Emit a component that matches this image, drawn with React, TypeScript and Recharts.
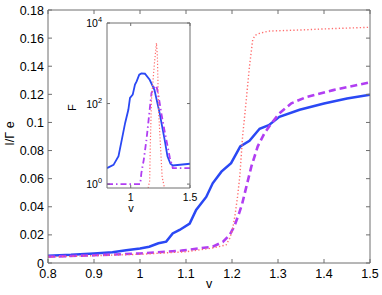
import React from 'react';
import { LineChart, Line, XAxis, YAxis, CartesianGrid } from 'recharts';

// ---------- data (main plot: current vs voltage) ----------
const blueV = [0.8, 0.85, 0.9, 0.94, 0.97, 1.0, 1.02, 1.04, 1.057, 1.071, 1.086, 1.108, 1.122, 1.144, 1.158, 1.177, 1.198, 1.218, 1.238, 1.26, 1.28, 1.303, 1.347, 1.4, 1.45, 1.5];
const blueI = [0.0052, 0.0058, 0.0068, 0.0077, 0.009, 0.0103, 0.0116, 0.014, 0.0152, 0.021, 0.0235, 0.028, 0.0377, 0.047, 0.0567, 0.065, 0.071, 0.083, 0.087, 0.0955, 0.098, 0.104, 0.109, 0.1135, 0.117, 0.1198];

const purpleV = [0.8, 0.9, 1.0, 1.09, 1.158, 1.18, 1.195, 1.205, 1.215, 1.222, 1.231, 1.242, 1.256, 1.27, 1.285, 1.303, 1.329, 1.361, 1.42, 1.5];
const purpleI = [0.0045, 0.0055, 0.0068, 0.0088, 0.0116, 0.015, 0.02, 0.026, 0.035, 0.042, 0.054, 0.0685, 0.083, 0.092, 0.099, 0.1065, 0.1136, 0.118, 0.123, 0.1285];

const redV = [0.8, 1.0, 1.1, 1.155, 1.187, 1.195, 1.201, 1.207, 1.212, 1.217, 1.22, 1.223, 1.227, 1.231, 1.238, 1.245, 1.25, 1.26, 1.28, 1.35, 1.42, 1.5];
const redI = [0.0042, 0.0062, 0.008, 0.0105, 0.0128, 0.0176, 0.0235, 0.035, 0.047, 0.062, 0.0756, 0.09, 0.103, 0.116, 0.14, 0.1587, 0.162, 0.1634, 0.165, 0.1658, 0.1668, 0.1677];

// ---------- data (inset: Fano factor, log scale) ----------
const insetBlueV = [0.8, 0.855, 0.897, 0.925, 0.953, 0.98, 0.994, 1.017, 1.036, 1.05, 1.072, 1.09, 1.12, 1.16, 1.2, 1.244, 1.286, 1.31, 1.335, 1.355, 1.5];
const insetBlueF = [2.5, 3, 4.9, 12.7, 33, 70, 138, 166, 295, 355, 520, 560, 550, 390, 220, 58, 12.7, 4.9, 3.2, 2.9, 3.2];

const insetPurpleV = [0.8, 1.08, 1.09, 1.11, 1.133, 1.16, 1.175, 1.2, 1.217, 1.235, 1.258, 1.28, 1.3, 1.33, 1.355, 1.5];
const insetPurpleF = [1, 1, 1.9, 4, 12.7, 70, 183, 250, 277, 150, 58, 25, 12.7, 4.5, 2.5, 2.5];

const insetRedV = [1.147, 1.16, 1.165, 1.175, 1.2, 1.217, 1.225, 1.235, 1.25, 1.265, 1.285];
const insetRedF = [0.8, 1.2, 8.7, 125, 1000, 3200, 1500, 65, 10, 1.5, 0.8];

// ---------- ticks ----------
const mainXTicks = [0.8, 0.9, 1.0, 1.1, 1.2, 1.3, 1.4, 1.5];
const mainYTicks = [0, 0.02, 0.04, 0.06, 0.08, 0.1, 0.12, 0.14, 0.16, 0.18];
const insetXTicks = [1, 1.5];
const insetYTicks = [1, 100, 10000];
const insetYExponents = ['0', '2', '4'];

const zip = (xs: number[], ys: number[]) => xs.map((x, i) => ({ x, y: ys[i] }));
const blueData = zip(blueV, blueI);
const purpleData = zip(purpleV, purpleI);
const redData = zip(redV, redI);
const insetBlue = zip(insetBlueV, insetBlueF);
const insetPurple = zip(insetPurpleV, insetPurpleF);
const insetRed = zip(insetRedV, insetRedF);

const FONT = '"Liberation Sans", Arial, Helvetica, sans-serif';
const AXIS = '#6e6e6e';
const BLUE = '#2a48f4';
const PURPLE = '#b13ef2';
const RED = '#ff6e6e';
const fmt = (v: number) => String(parseFloat(v.toFixed(2)));

const makeLeftTick = (len: number, fs: number, log = false) => (props: any) => {
  const { x, y, payload, index } = props;
  return (
    <g>
      <line x1={x} y1={y} x2={x + len} y2={y} stroke={AXIS} strokeWidth={1} />
      {log ? (
        <text x={x - 5} y={y + 4} textAnchor="end" fontSize={fs} fontFamily={FONT} fill="#000">
          10<tspan dy={-5} fontSize={fs * 0.7}>{insetYExponents[index]}</tspan>
        </text>
      ) : (
        <text x={x - 4} y={y + 4.5} textAnchor="end" fontSize={fs} fontFamily={FONT} fill="#000">
          {fmt(payload.value)}
        </text>
      )}
    </g>
  );
};
const makeRightTick = (len: number) => (props: any) => {
  const { x, y } = props;
  return <line x1={x} y1={y} x2={x - len} y2={y} stroke={AXIS} strokeWidth={1} />;
};
const makeBottomTick = (len: number, fs: number, dy: number) => (props: any) => {
  const { x, y, payload } = props;
  return (
    <g>
      <line x1={x} y1={y} x2={x} y2={y - len} stroke={AXIS} strokeWidth={1} />
      <text x={x} y={y + dy} textAnchor="middle" fontSize={fs} fontFamily={FONT} fill="#000">
        {fmt(payload.value)}
      </text>
    </g>
  );
};
const makeTopTick = (len: number) => (props: any) => {
  const { x, y } = props;
  return <line x1={x} y1={y} x2={x} y2={y + len} stroke={AXIS} strokeWidth={1} />;
};

const MainYLabel = (props: any) => {
  const { viewBox } = props;
  const cx = viewBox.x + viewBox.width - 34;
  const cy = viewBox.y + viewBox.height / 2 - 3;
  return (
    <text x={cx} y={cy} transform={`rotate(-90 ${cx} ${cy})`} textAnchor="middle" fontSize={12.5} fontFamily={FONT} fill="#000">
      I/Γ e
    </text>
  );
};
const MainXLabel = (props: any) => {
  const { viewBox } = props;
  return (
    <text x={viewBox.x + viewBox.width / 2} y={viewBox.y + 25} textAnchor="middle" fontSize={12.5} fontFamily={FONT} fill="#000">
      v
    </text>
  );
};
const InsetYLabel = (props: any) => {
  const { viewBox } = props;
  const cx = viewBox.x + viewBox.width - 31;
  const cy = viewBox.y + viewBox.height / 2 + 2;
  return (
    <text x={cx} y={cy} transform={`rotate(-90 ${cx} ${cy})`} textAnchor="middle" fontSize={11} fontFamily={FONT} fill="#000">
      F
    </text>
  );
};
const InsetXLabel = (props: any) => {
  const { viewBox } = props;
  return (
    <text x={viewBox.x + 24} y={viewBox.y + 24} textAnchor="middle" fontSize={11} fontFamily={FONT} fill="#000">
      v
    </text>
  );
};

export default function App() {
  return (
    <div style={{ position: 'absolute', left: 0, top: 0, width: 382, height: 295, background: '#fff' }}>
      <div style={{ position: 'absolute', left: 0, top: 0 }}>
        <LineChart width={382} height={295} margin={{ top: 9, right: 11, bottom: 31, left: 47 }}>
          <XAxis xAxisId="b" type="number" dataKey="x" domain={[0.8, 1.5]} ticks={mainXTicks} interval={0}
            height={1} tickSize={0} tickMargin={0} tickLine={false} stroke={AXIS} allowDataOverflow
            tick={makeBottomTick(4, 12.5, 15)} label={<MainXLabel />} />
          <XAxis xAxisId="t" orientation="top" type="number" dataKey="x" domain={[0.8, 1.5]} ticks={mainXTicks} interval={0}
            height={1} tickSize={0} tickMargin={0} tickLine={false} stroke={AXIS} allowDataOverflow tick={makeTopTick(4)} />
          <YAxis yAxisId="l" type="number" domain={[0, 0.18]} ticks={mainYTicks} interval={0}
            width={1} tickSize={0} tickMargin={0} tickLine={false} stroke={AXIS} allowDataOverflow
            tick={makeLeftTick(4, 12.5)} label={<MainYLabel />} />
          <YAxis yAxisId="r" orientation="right" type="number" domain={[0, 0.18]} ticks={mainYTicks} interval={0}
            width={1} tickSize={0} tickMargin={0} tickLine={false} stroke={AXIS} allowDataOverflow tick={makeRightTick(4)} />
          <Line xAxisId="b" yAxisId="l" data={blueData} dataKey="y" type="linear" stroke={BLUE} strokeWidth={2.5}
            dot={false} isAnimationActive={false} />
          <Line xAxisId="b" yAxisId="l" data={purpleData} dataKey="y" type="linear" stroke={PURPLE} strokeWidth={2.6}
            strokeDasharray="7 4" dot={false} isAnimationActive={false} />
          <Line xAxisId="b" yAxisId="l" data={redData} dataKey="y" type="linear" stroke={RED} strokeWidth={1.4}
            strokeDasharray="1.3 2.2" dot={false} isAnimationActive={false} />
        </LineChart>
      </div>
      <div style={{ position: 'absolute', left: 0, top: 0 }}>
        <LineChart width={382} height={295} margin={{ top: 22, right: 191, bottom: 106, left: 106 }}>
          <CartesianGrid xAxisId="b" yAxisId="l" horizontal={false} vertical={false} fill="#fff" fillOpacity={1} />
          <XAxis xAxisId="b" type="number" dataKey="x" domain={[0.8, 1.5]} ticks={insetXTicks} interval={0}
            height={1} tickSize={0} tickMargin={0} tickLine={false} stroke={AXIS} allowDataOverflow
            tick={makeBottomTick(3, 10.5, 13)} label={<InsetXLabel />} />
          <XAxis xAxisId="t" orientation="top" type="number" dataKey="x" domain={[0.8, 1.5]} ticks={insetXTicks} interval={0}
            height={1} tickSize={0} tickMargin={0} tickLine={false} stroke={AXIS} allowDataOverflow tick={makeTopTick(3)} />
          <YAxis yAxisId="l" type="number" scale="log" domain={[0.8, 10000]} ticks={insetYTicks} interval={0}
            width={1} tickSize={0} tickMargin={0} tickLine={false} stroke={AXIS} allowDataOverflow
            tick={makeLeftTick(3, 10.5, true)} label={<InsetYLabel />} />
          <YAxis yAxisId="r" orientation="right" type="number" scale="log" domain={[0.8, 10000]} ticks={insetYTicks} interval={0}
            width={1} tickSize={0} tickMargin={0} tickLine={false} stroke={AXIS} allowDataOverflow tick={makeRightTick(3)} />
          <Line xAxisId="b" yAxisId="l" data={insetBlue} dataKey="y" type="linear" stroke={BLUE} strokeWidth={1.8}
            dot={false} isAnimationActive={false} />
          <Line xAxisId="b" yAxisId="l" data={insetPurple} dataKey="y" type="linear" stroke={PURPLE} strokeWidth={1.8}
            strokeDasharray="6 3 1.5 3" dot={false} isAnimationActive={false} />
          <Line xAxisId="b" yAxisId="l" data={insetRed} dataKey="y" type="linear" stroke={RED} strokeWidth={1.2}
            strokeDasharray="1.2 2" dot={false} isAnimationActive={false} />
        </LineChart>
      </div>
    </div>
  );
}
